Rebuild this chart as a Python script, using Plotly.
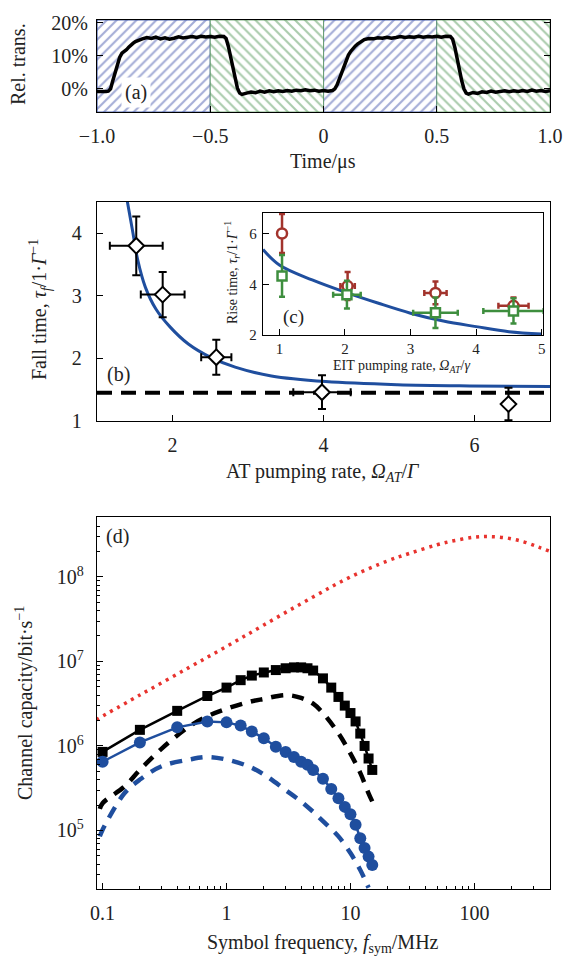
import plotly.graph_objects as go

# ---------------- data ----------------
# (a) time trace
t_a = [-1.0, -0.98, -0.96, -0.95, -0.94, -0.93, -0.92, -0.91, -0.90, -0.89, -0.88, -0.87, -0.86, -0.85,
       -0.84, -0.83, -0.82, -0.81, -0.80, -0.78, -0.76, -0.74, -0.72, -0.70, -0.68, -0.66, -0.64, -0.62,
       -0.60, -0.58, -0.56, -0.54, -0.52, -0.50, -0.48, -0.46, -0.44, -0.43, -0.42, -0.41, -0.40, -0.39,
       -0.38, -0.37, -0.36, -0.34, -0.32, -0.30, -0.28, -0.26, -0.24, -0.22, -0.20, -0.18, -0.16, -0.14,
       -0.12, -0.10, -0.08, -0.06, -0.04, -0.02, 0.0, 0.02, 0.04, 0.05, 0.06, 0.07, 0.08, 0.09, 0.10,
       0.11, 0.12, 0.13, 0.14, 0.15, 0.16, 0.18, 0.20, 0.22, 0.24, 0.26, 0.28, 0.30, 0.32, 0.34, 0.36,
       0.38, 0.40, 0.42, 0.44, 0.46, 0.48, 0.50, 0.52, 0.54, 0.56, 0.57, 0.58, 0.59, 0.60, 0.61, 0.62,
       0.63, 0.64, 0.66, 0.68, 0.70, 0.72, 0.74, 0.76, 0.78, 0.80, 0.82, 0.84, 0.86, 0.88, 0.90, 0.92,
       0.94, 0.96, 0.98, 1.0]
trans_a = [-0.8, -0.9, -0.8, -0.7, 0.0, 2.5, 5.0, 7.5, 9.5, 10.8, 11.2, 11.8, 12.6, 13.3,
           13.8, 14.3, 14.6, 15.0, 15.1, 15.5, 15.2, 15.6, 15.1, 15.4, 15.0, 15.3, 15.7, 15.4,
           15.6, 15.8, 15.5, 15.9, 15.7, 15.8, 15.6, 15.9, 15.8, 15.2, 12.8, 9.5, 6.0, 2.8,
           0.2, -1.3, -1.7, -1.3, -1.0, -1.2, -0.7, -1.0, -0.6, -0.9, -0.6, -0.8, -0.5, -0.7,
           -0.4, -0.6, -0.3, -0.6, -0.4, -0.7, -0.5, -0.7, -0.5, 0.0, 1.2, 3.0, 5.0, 7.0, 8.8,
           10.2, 11.3, 12.2, 12.9, 13.5, 14.0, 14.9, 15.2, 15.1, 15.4, 15.3, 15.6, 15.3, 15.5, 15.8, 15.5,
           15.7, 15.6, 15.9, 15.6, 15.8, 15.7, 15.9, 15.6, 15.9, 15.8, 15.0, 12.5, 9.0, 5.5, 2.5, 0.0,
           -1.3, -1.6, -1.1, -1.4, -0.9, -1.1, -0.7, -1.0, -0.8, -0.6, -0.9, -0.6, -0.8, -0.5, -0.8, -0.4,
           -0.7, -0.5, -0.8, -0.6]
region_start_blue = [-1.0, 0.0]
region_start_green = [-0.5, 0.5]
region_width = 0.5
a_xticks = [-1.0, -0.5, 0.0, 0.5, 1.0]
a_xticktext = ["\u22121.0", "\u22120.5", "0", "0.5", "1.0"]
a_yticks = [0, 10, 20]
a_yticktext = ["0%", "10%", "20%"]
a_yrange = [-7.0, 20.8]

# (b) fall time
b_x = [1.52, 1.87, 2.58, 3.98, 6.45]
b_y = [3.80, 3.02, 2.02, 1.46, 1.27]
b_xerr = [0.35, 0.29, 0.20, 0.38, 0.06]
b_yerr = [0.47, 0.36, 0.28, 0.27, 0.26]
b_fit_x = [1.40, 1.47, 1.54, 1.64, 1.78, 1.97, 2.21, 2.50, 2.83, 3.31, 4.03, 4.98, 5.94, 7.0]
b_fit_y = [4.52, 4.05, 3.57, 3.14, 2.79, 2.50, 2.23, 2.02, 1.86, 1.72, 1.63, 1.58, 1.56, 1.55]
b_limit = 1.45

# (c) rise time inset
c_red_x = [1.04, 2.04, 3.38, 4.57]
c_red_y = [6.00, 3.93, 3.66, 3.15]
c_red_xerr = [0.04, 0.11, 0.17, 0.23]
c_red_yerr = [0.77, 0.55, 0.45, 0.33]
c_grn_x = [1.04, 2.03, 3.38, 4.57]
c_grn_y = [4.33, 3.59, 2.88, 2.95]
c_grn_xerr = [0.05, 0.21, 0.34, 0.46]
c_grn_yerr = [0.82, 0.55, 0.60, 0.50]
c_fit_x = [0.75, 1.0, 1.5, 2.0, 2.5, 3.0, 3.5, 4.0, 4.5, 5.0]
c_fit_y = [5.37, 4.76, 4.17, 3.69, 3.26, 2.86, 2.55, 2.33, 2.13, 2.04]

# (d) channel capacity
d_red_x = [0.0886, 0.2, 0.5, 1, 2, 5, 10, 20, 30, 50, 70, 100, 130, 180, 250, 330, 410]
d_red_y = [2.04e6, 4.0e6, 8.5e6, 1.5e7, 2.7e7, 5.8e7, 1.0e8, 1.55e8, 1.9e8, 2.4e8, 2.7e8,
           2.95e8, 3.0e8, 2.9e8, 2.6e8, 2.25e8, 2.0e8]
d_sq_x = [0.1, 0.2, 0.4, 0.7, 1.0, 1.3, 1.6, 2.0, 2.5, 3.0, 3.5, 4.0, 4.5, 5.0, 6.0, 7.0, 8.0,
          9.0, 10, 11, 12, 13, 14, 15]
d_sq_y = [8.5e5, 1.55e6, 2.6e6, 3.9e6, 4.9e6, 6.0e6, 6.8e6, 7.4e6, 7.9e6, 8.3e6, 8.5e6, 8.5e6,
          8.3e6, 7.8e6, 6.3e6, 4.9e6, 3.8e6, 3.0e6, 2.45e6, 1.95e6, 1.4e6, 1.0e6, 7.1e5, 5.2e5]
d_ci_x = d_sq_x
d_ci_y = [6.5e5, 1.1e6, 1.66e6, 1.95e6, 1.9e6, 1.74e6, 1.48e6, 1.23e6, 9.8e5, 8.5e5, 7.4e5, 6.5e5,
          6.0e5, 5.2e5, 4.1e5, 3.1e5, 2.4e5, 1.9e5, 1.55e5, 1.17e5, 8.1e4, 6.2e4, 4.9e4, 3.9e4]
d_kd_x = [0.095, 0.1, 0.15, 0.2, 0.3, 0.5, 0.7, 1, 1.5, 2, 3, 4, 5, 6, 8, 10, 12, 14, 15]
d_kd_y = [1.8e5, 2.1e5, 3.3e5, 5.2e5, 9.3e5, 1.7e6, 2.24e6, 2.75e6, 3.3e6, 3.6e6, 4.0e6, 3.7e6,
          3.16e6, 2.45e6, 1.41e6, 8.1e5, 4.8e5, 2.75e5, 2.2e5]
d_bd_x = [0.095, 0.1, 0.15, 0.2, 0.3, 0.5, 0.7, 1, 1.5, 2, 3, 4, 5, 6, 8, 10, 12, 14]
d_bd_y = [8.5e4, 1.02e5, 2.75e5, 4.0e5, 5.75e5, 6.9e5, 7.4e5, 6.9e5, 5.75e5, 4.6e5, 3.0e5,
          2.2e5, 1.66e5, 1.29e5, 8.5e4, 5.4e4, 3.4e4, 2.1e4]
d_xticks = [0.1, 1, 10, 100]
d_xticktext = ["0.1", "1", "10", "100"]
d_yticks = [1e5, 1e6, 1e7, 1e8]
d_yticktext = ["10<sup>5</sup>", "10<sup>6</sup>", "10<sup>7</sup>", "10<sup>8</sup>"]
d_x_decades = [-2, -1, 0, 1, 2]
d_y_decades = [4, 5, 6, 7, 8]

# ---------------- layout helpers ----------------
W, H = 567, 956
FONT = "Liberation Serif"
TXT = "#222222"
BLUE = "#1F4E9E"
def fx(p):
    return p / W
def fy(p):
    return 1 - p / H

fig = go.Figure()

# (a) hatched background regions
fig.add_trace(go.Bar(x=region_start_blue, y=[a_yrange[1] - a_yrange[0]] * len(region_start_blue),
                     base=a_yrange[0], width=region_width, offset=0,
                     marker=dict(color="white", line=dict(color="#4A62B0", width=1.2),
                                 pattern=dict(shape="/", fgcolor="#4A5BAE", bgcolor="white",
                                              size=7, solidity=0.3)),
                     xaxis="x", yaxis="y", showlegend=False, hoverinfo="skip"))
fig.add_trace(go.Bar(x=region_start_green, y=[a_yrange[1] - a_yrange[0]] * len(region_start_green),
                     base=a_yrange[0], width=region_width, offset=0,
                     marker=dict(color="white", line=dict(color="#5A9A5E", width=0.8),
                                 pattern=dict(shape="\\", fgcolor="#55985A", bgcolor="white",
                                              size=7, solidity=0.3)),
                     xaxis="x", yaxis="y", showlegend=False, hoverinfo="skip"))
fig.add_trace(go.Scatter(x=t_a, y=trans_a, mode="lines", line=dict(color="black", width=3.5),
                         xaxis="x", yaxis="y", showlegend=False))

# (b)
fig.add_trace(go.Scatter(x=[1, 7], y=[b_limit, b_limit], mode="lines",
                         line=dict(color="black", width=4, dash="15px,9px"),
                         xaxis="x2", yaxis="y2", showlegend=False))
fig.add_trace(go.Scatter(x=b_fit_x, y=b_fit_y, mode="lines", line=dict(color=BLUE, width=3, shape="spline"),
                         xaxis="x2", yaxis="y2", showlegend=False))
fig.add_trace(go.Scatter(x=b_x, y=b_y, mode="markers",
                         marker=dict(symbol="diamond", size=12, color="white", line=dict(color="black", width=2)),
                         error_x=dict(type="data", array=b_xerr, color="black", thickness=2, width=4),
                         error_y=dict(type="data", array=b_yerr, color="black", thickness=2, width=4),
                         xaxis="x2", yaxis="y2", showlegend=False))

# (c) inset
fig.add_trace(go.Scatter(x=c_fit_x, y=c_fit_y, mode="lines", line=dict(color=BLUE, width=3, shape="spline"),
                         xaxis="x3", yaxis="y3", showlegend=False))
fig.add_trace(go.Scatter(x=c_red_x, y=c_red_y, mode="markers",
                         marker=dict(symbol="circle", size=10, color="white", line=dict(color="#A2332C", width=2.5)),
                         error_x=dict(type="data", array=c_red_xerr, color="#A2332C", thickness=2.5, width=3),
                         error_y=dict(type="data", array=c_red_yerr, color="#A2332C", thickness=2.5, width=3),
                         xaxis="x3", yaxis="y3", showlegend=False))
fig.add_trace(go.Scatter(x=c_grn_x, y=c_grn_y, mode="markers",
                         marker=dict(symbol="square", size=9, color="white", line=dict(color="#3E8E3E", width=2.5)),
                         error_x=dict(type="data", array=c_grn_xerr, color="#3E8E3E", thickness=2.5, width=3),
                         error_y=dict(type="data", array=c_grn_yerr, color="#3E8E3E", thickness=2.5, width=3),
                         xaxis="x3", yaxis="y3", showlegend=False))

# (d)
fig.add_trace(go.Scatter(x=d_red_x, y=d_red_y, mode="lines", line=dict(color="#E8332E", width=3.5, dash="3px,5px", shape="spline"),
                         xaxis="x4", yaxis="y4", showlegend=False))
fig.add_trace(go.Scatter(x=d_kd_x, y=d_kd_y, mode="lines", line=dict(color="black", width=4.5, dash="12px,9px", shape="spline"),
                         xaxis="x4", yaxis="y4", showlegend=False))
fig.add_trace(go.Scatter(x=d_bd_x, y=d_bd_y, mode="lines", line=dict(color=BLUE, width=4.5, dash="12px,9px", shape="spline"),
                         xaxis="x4", yaxis="y4", showlegend=False))
fig.add_trace(go.Scatter(x=d_sq_x, y=d_sq_y, mode="lines+markers", line=dict(color="black", width=2.5),
                         marker=dict(symbol="square", size=10, color="black"),
                         xaxis="x4", yaxis="y4", showlegend=False))
fig.add_trace(go.Scatter(x=d_ci_x, y=d_ci_y, mode="lines+markers", line=dict(color=BLUE, width=2.5),
                         marker=dict(symbol="circle", size=12, color=BLUE),
                         xaxis="x4", yaxis="y4", showlegend=False))

TICKF = dict(family=FONT, size=20, color=TXT)
INSF = dict(family=FONT, size=15, color=TXT)
ax_common = dict(showline=True, linecolor="black", linewidth=1.3, showgrid=False, zeroline=False,
                 ticks="inside", ticklen=6, tickwidth=1, tickcolor="black", automargin=False)

def minor_log(decades):
    vals = [m * 10.0 ** e for e in decades for m in range(2, 10)]
    return dict(ticks="inside", ticklen=3, tickwidth=1, tickcolor="black", showgrid=False,
                tickmode="array", tickvals=vals)

fig.update_layout(
    width=W, height=H, margin=dict(l=0, r=0, t=0, b=0, pad=0), autosize=False,
    paper_bgcolor="white", plot_bgcolor="white", barmode="overlay",
    font=dict(family=FONT, color=TXT),
    xaxis=dict(**ax_common, tickfont=TICKF, domain=[fx(97), fx(550)], anchor="y", range=[-1, 1],
               tickmode="array", tickvals=a_xticks, ticktext=a_xticktext, mirror=True, ticklabelstandoff=6),
    yaxis=dict(**ax_common, tickfont=TICKF, domain=[fy(112), fy(20)], anchor="x", range=a_yrange,
               tickmode="array", tickvals=a_yticks, ticktext=a_yticktext, mirror="ticks", ticklabelstandoff=4),
    xaxis2=dict(**ax_common, tickfont=TICKF, domain=[fx(97), fx(550)], anchor="y2", range=[1, 7],
                tickmode="array", tickvals=[2, 4, 6], mirror=True, ticklabelstandoff=6),
    yaxis2=dict(**ax_common, tickfont=TICKF, domain=[fy(421), fy(202)], anchor="x2", range=[1, 4.5],
                tickmode="array", tickvals=[1, 2, 3, 4], mirror=True, ticklabelstandoff=10),
    xaxis3=dict(**ax_common, tickfont=INSF, domain=[fx(263), fx(543)], anchor="y3", range=[0.75, 5.02],
                tickmode="array", tickvals=[1, 2, 3, 4, 5], mirror=True, ticklabelstandoff=0),
    yaxis3=dict(**ax_common, tickfont=INSF, domain=[fy(335), fy(213)], anchor="x3", range=[2, 6.81],
                tickmode="array", tickvals=[2, 4, 6], mirror=True, ticklabelstandoff=2),
    xaxis4=dict(**ax_common, tickfont=TICKF, type="log", domain=[fx(97), fx(550)], anchor="y4",
                range=[-1.045, 2.61], tickmode="array", tickvals=d_xticks, ticktext=d_xticktext,
                mirror=True, ticklabelstandoff=6, minor=minor_log(d_x_decades)),
    yaxis4=dict(**ax_common, tickfont=TICKF, type="log", domain=[fy(889), fy(517)], anchor="x4",
                range=[4.307, 8.709], tickmode="array", tickvals=d_yticks, ticktext=d_yticktext,
                mirror=True, ticklabelstandoff=8, minor=minor_log(d_y_decades)),
)

def ann(text, x, y, size=20, angle=0, **kw):
    fig.add_annotation(text=text, x=fx(x), y=fy(y), xref="paper", yref="paper", showarrow=False,
                       textangle=angle, font=dict(family=FONT, size=size, color=TXT),
                       xanchor="center", yanchor="middle", **kw)

ann("Rel. trans.", 18, 64, angle=-90)
ann("Time/\u03bcs", 323, 162)
ann("(a)", 136, 93, size=20, bgcolor="white", borderpad=3)
ann("Fall time, <i>\u03c4<sub>f</sub></i>/1\u00b7<i>\u0393</i><sup>\u22121</sup>", 40, 310, angle=-90)
ann("AT pumping rate, <i>\u03a9<sub>AT</sub></i>/<i>\u0393</i>", 323, 472)
ann("(b)", 118, 374, size=20)
ann("Rise time, <i>\u03c4<sub>r</sub></i>/1\u00b7<i>\u0393</i><sup>\u22121</sup>", 232, 273, size=14, angle=-90)
ann("EIT pumping rate, <i>\u03a9<sub>AT</sub></i>/<i>\u03b3</i>", 401, 366, size=14)
ann("(c)", 293, 317, size=19)
ann("Channel capacity/bit\u00b7s<sup>\u22121</sup>", 24, 703, angle=-90)
ann("Symbol frequency, <i>f</i><sub>sym</sub>/MHz", 323, 943)
ann("(d)", 117, 536, size=20)

fig.write_html("out.html", config={"displayModeBar": False},
               post_script="document.body.style.margin='0';document.body.style.overflow='hidden';")
